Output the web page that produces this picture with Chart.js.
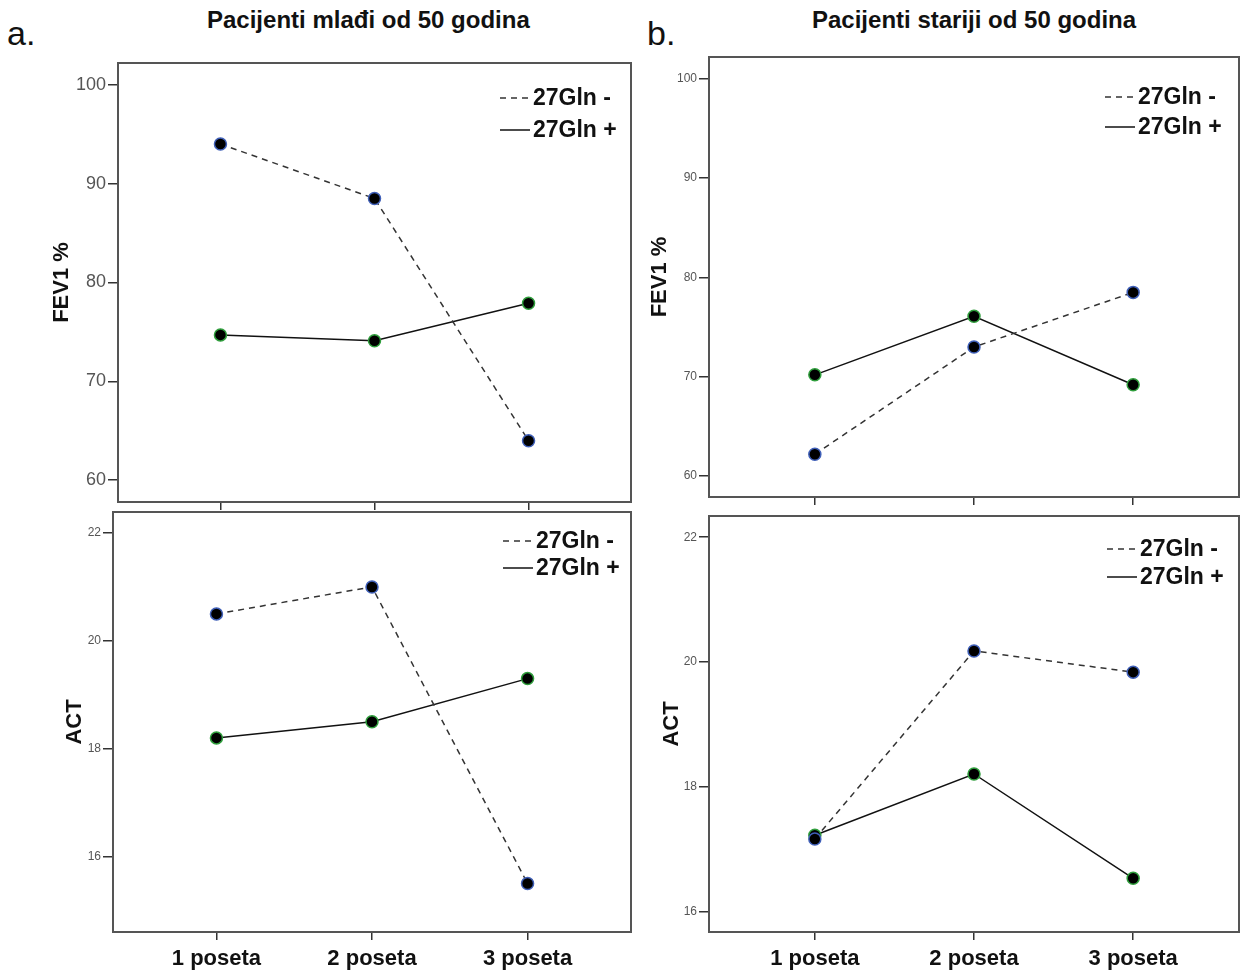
<!DOCTYPE html>
<html>
<head>
<meta charset="utf-8">
<script src="https://cdn.jsdelivr.net/npm/chart.js@4.4.0/dist/chart.umd.min.js"></script>
<style>
    body { margin: 0; background: #fff; width: 1241px; height: 971px; position: relative; overflow: hidden; font-family: "Liberation Sans", Arial, sans-serif; }
    canvas { position: absolute; }
    .lbl { position: absolute; font-size: 34px; color: #111; line-height: 1; }
    .ttl { position: absolute; font-weight: bold; font-size: 24px; color: #111; white-space: nowrap; line-height: 1; }
</style>
</head>
<body>
<div class="lbl" style="left:7px;top:16px">a.</div>
<div class="ttl" style="left:207px;top:8px">Pacijenti mlađi od 50 godina</div>
<div class="lbl" style="left:647px;top:16px">b.</div>
<div class="ttl" style="left:812px;top:8px">Pacijenti stariji od 50 godina</div>

<canvas id="youngFev1" width="640" height="450" style="left:0;top:60px"></canvas>
<canvas id="oldFev1" width="601" height="455" style="left:640px;top:50px"></canvas>
<canvas id="youngAct" width="640" height="466" style="left:0;top:505px"></canvas>
<canvas id="oldAct" width="601" height="466" style="left:640px;top:505px"></canvas>

<script>
const visits = ['1 poseta', '2 poseta', '3 poseta'];
const seriesNames = ['27Gln -', '27Gln +'];

const youngFev1Neg = [94.0, 88.5, 64.0];
const youngFev1Pos = [74.7, 74.1, 77.9];
const oldFev1Neg = [62.2, 73.0, 78.5];
const oldFev1Pos = [70.2, 76.1, 69.2];

const youngActNeg = [20.5, 21.0, 15.5];
const youngActPos = [18.2, 18.5, 19.3];
const oldActNeg = [17.17, 20.18, 19.84];
const oldActPos = [17.23, 18.21, 16.54];

const fev1Ticks = [60, 70, 80, 90, 100];
const actTicks = [16, 18, 20, 22];

const FONT = '"Liberation Sans", Arial, sans-serif';

// frame round the plot area
const boxPlugin = {
    id: 'box',
    beforeDatasetsDraw(chart) {
        const a = chart.chartArea;
        const ctx = chart.ctx;
        ctx.save();
        ctx.strokeStyle = '#555';
        ctx.lineWidth = 2;
        ctx.strokeRect(a.left, a.top, a.right - a.left, a.bottom - a.top);
        ctx.restore();
    }
};

// legend drawn inside the plot, top right
const innerLegend = {
    id: 'innerLegend',
    afterDraw(chart, args, opts) {
        const a = chart.chartArea;
        const ctx = chart.ctx;
        ctx.save();
        chart.data.datasets.forEach((ds, i) => {
            const y = a.top + opts.rows[i];
            const x = a.right - opts.dx;
            ctx.strokeStyle = ds.borderColor;
            ctx.lineWidth = 1.5;
            ctx.setLineDash(ds.borderDash || []);
            ctx.beginPath();
            ctx.moveTo(x, y);
            ctx.lineTo(x + 30, y);
            ctx.stroke();
            ctx.setLineDash([]);
            ctx.fillStyle = '#111';
            ctx.font = 'bold 23px ' + FONT;
            ctx.textBaseline = 'middle';
            ctx.fillText(ds.label, x + 33, y + 1);
        });
        ctx.restore();
    }
};

function makePanel(id, cfg) {
    const toPoints = arr => arr.map((v, i) => ({ x: i + 1, y: v }));
    return new Chart(document.getElementById(id), {
        type: 'line',
        data: {
            datasets: [{
                label: seriesNames[0],
                data: toPoints(cfg.neg),
                borderColor: '#333',
                borderWidth: 1.5,
                borderDash: [6, 5],
                pointRadius: 6,
                pointBackgroundColor: '#000',
                pointBorderColor: '#3f5fb8',
                pointBorderWidth: 1.5
            }, {
                label: seriesNames[1],
                data: toPoints(cfg.pos),
                borderColor: '#111',
                borderWidth: 1.5,
                pointRadius: 6,
                pointBackgroundColor: '#000',
                pointBorderColor: '#2f9e3c',
                pointBorderWidth: 1.5
            }]
        },
        options: {
            responsive: false,
            animation: false,
            layout: { padding: cfg.padding, autoPadding: false },
            plugins: {
                legend: { display: false },
                tooltip: { enabled: false },
                innerLegend: cfg.legend
            },
            scales: {
                x: {
                    type: 'linear',
                    min: 0.335,
                    max: 3.665,
                    afterBuildTicks: s => { s.ticks = visits.map((v, i) => ({ value: i + 1 })); },
                    afterFit: s => { s.height = cfg.xHeight; s.paddingLeft = 0; s.paddingRight = 0; },
                    grid: { drawOnChartArea: false, tickLength: 8, color: '#333', lineWidth: 1.5 },
                    border: { display: false },
                    ticks: {
                        display: cfg.xLabels,
                        padding: 6,
                        color: '#111',
                        font: { family: FONT, size: 22, weight: 'bold' },
                        callback: v => visits[v - 1] || ''
                    }
                },
                y: {
                    min: cfg.yMin,
                    max: cfg.yMax,
                    afterBuildTicks: s => { s.ticks = cfg.yTicks.map(v => ({ value: v })); },
                    afterFit: s => { s.width = cfg.yWidth; s.paddingTop = 0; s.paddingBottom = 0; },
                    grid: { drawOnChartArea: false, tickLength: 10, color: '#333', lineWidth: 1.5 },
                    border: { display: false },
                    ticks: {
                        padding: 2,
                        color: '#555',
                        font: { family: FONT, size: cfg.tickSize }
                    },
                    title: {
                        display: true,
                        text: cfg.yTitle,
                        color: '#111',
                        font: { family: FONT, size: 22, weight: 'bold' },
                        padding: { top: cfg.titlePad, bottom: 0 }
                    }
                }
            }
        },
        plugins: [boxPlugin, innerLegend]
    });
}

makePanel('youngFev1', {
    neg: youngFev1Neg, pos: youngFev1Pos,
    yMin: 57.8, yMax: 102.2, yTicks: fev1Ticks, tickSize: 18,
    yWidth: 118, xHeight: 8, xLabels: false,
    padding: { top: 3, right: 9, left: 0, bottom: 0 },
    yTitle: 'FEV1 %', titlePad: 49,
    legend: { dx: 131, rows: [35, 67] }
});

makePanel('oldFev1', {
    neg: oldFev1Neg, pos: oldFev1Pos,
    yMin: 57.9, yMax: 102.2, yTicks: fev1Ticks, tickSize: 12,
    yWidth: 69, xHeight: 8, xLabels: false,
    padding: { top: 7, right: 2, left: 0, bottom: 0 },
    yTitle: 'FEV1 %', titlePad: 7,
    legend: { dx: 134, rows: [40, 70] }
});

makePanel('youngAct', {
    neg: youngActNeg, pos: youngActPos,
    yMin: 14.6, yMax: 22.39, yTicks: actTicks, tickSize: 12,
    yWidth: 113, xHeight: 39, xLabels: true,
    padding: { top: 7, right: 9, left: 0, bottom: 0 },
    yTitle: 'ACT', titlePad: 62,
    legend: { dx: 128, rows: [29, 56] }
});

makePanel('oldAct', {
    neg: oldActNeg, pos: oldActPos,
    yMin: 15.68, yMax: 22.34, yTicks: actTicks, tickSize: 12,
    yWidth: 69, xHeight: 39, xLabels: true,
    padding: { top: 11, right: 2, left: 0, bottom: 0 },
    yTitle: 'ACT', titlePad: 19,
    legend: { dx: 132, rows: [33, 61] }
});
</script>
</body>
</html>
